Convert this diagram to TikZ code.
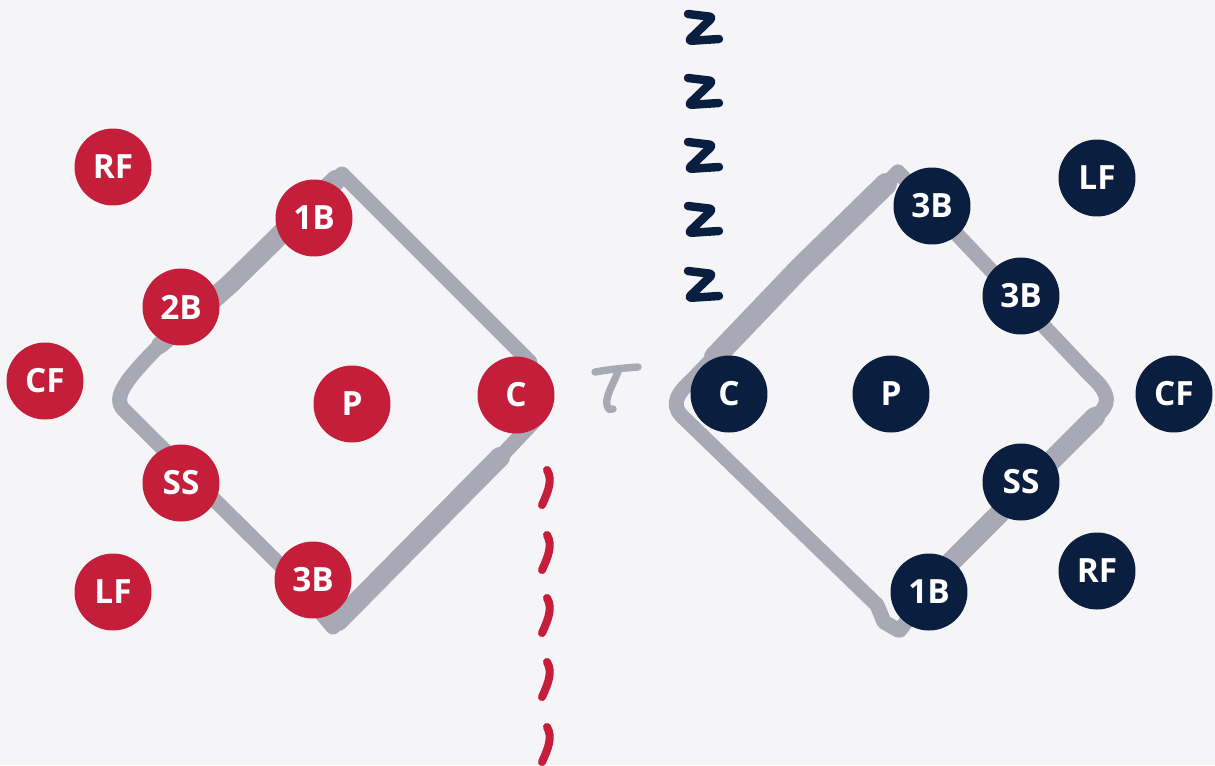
\documentclass[tikz,border=0pt]{standalone}
\usepackage{fontspec}
\setmainfont{Open Sans}
\usepackage{tikz}
\usetikzlibrary{positioning,calc}
\definecolor{teamred}{RGB}{196,30,58}
\definecolor{teamnavy}{RGB}{10,30,63}
\definecolor{fieldgray}{RGB}{169,169,182}
\definecolor{paper}{RGB}{245,245,248}
\tikzset{
  player/.style={circle, inner sep=0pt, minimum size=1.54cm, text=white,
      font=\fontsize{19}{21}\selectfont\bfseries},
  rpos/.style={player, fill=teamred},
  npos/.style={player, fill=teamnavy},
  fld/.style={fieldgray, line width=8.5pt, line cap=round, line join=round},
  fldw/.style={fieldgray, line width=11.5pt, line cap=round, line join=round},
  zzz/.style={teamnavy, line width=4.8pt, line cap=round, line join=round, rounded corners=2pt},
  rdash/.style={teamred, line width=4.6pt, line cap=round},
}
\begin{document}
\begin{tikzpicture}[x=0.02cm, y=-0.02cm]
\fill[paper] (0,0) rectangle (1215,765);
\useasboundingbox (0,0) rectangle (1215,765);
%---- left field
\draw[fld] (530,362) -- (342,174) -- (230,284) -- (160,345)
   .. controls (120,385) and (112,400) .. (126,412) -- (280,565) -- (333,627) -- (505,452) -- (540,415);
\draw[fldw] (336,180) -- (230,284) -- (195,315);
\draw[fld, line width=10pt] (195,315) -- (160,345);
\draw[fldw] (338,621) -- (500,457);
%---- right field
\draw[fld] (898,172) -- (1090,375) .. controls (1112,395) and (1110,405) .. (1095,417)
   -- (950,563) -- (900,630);
\draw[fld] (898,172) -- (800,268) -- (692,380) .. controls (672,398) and (672,408) .. (686,420)
   -- (877,605) -- (884,622) -- (898,630);
\draw[fld, line width=12.5pt] (886,184) -- (800,268) -- (715,357);
\draw[fldw] (1095,417) -- (1040,472);
\draw[fldw] (1000,513) -- (950,563);
%---- snore
\foreach \y in {27,91,155,219,284}
  \draw[zzz, shift={(705,\y)}] (-17,-13) -- (8,-10) -- (-17,14) -- (14,12);
%---- the mark between
\draw[fieldgray, line width=4.2pt, line cap=round]
   (595,372) .. controls (612,369) and (625,368) .. (638,367);
\draw[fieldgray, line width=4.2pt, line cap=round]
   (618,372) .. controls (612,386) and (605,398) .. (607,405) .. controls (608,410) and (611,410) .. (613,409);
%---- dashed trail
\foreach \y in {470,535,598,662,727}
  \draw[rdash] (547,\y) .. controls (553,\y+10) and (548,\y+22) .. (542,\y+35);
%---- red team
\node[rpos] (rRF) at (113,167) {RF};
\node[rpos] (r1B) at (314,218) {1B};
\node[rpos] (r2B) at (181,307) {2B};
\node[rpos] (rCF) at (45,381) {CF};
\node[rpos] (rP) at (352,404) {P};
\node[rpos] (rC) at (516,395) {C};
\node[rpos] (rSS) at (181,483) {SS};
\node[rpos] (r3B) at (313,580) {3B};
\node[rpos] (rLF) at (113,592) {LF};
%---- navy team
\node[npos] (n3Ba) at (932,206) {3B};
\node[npos] (nLF) at (1097,178) {LF};
\node[npos] (n3Bb) at (1021,296) {3B};
\node[npos] (nC) at (729,394) {C};
\node[npos] (nP) at (891,394) {P};
\node[npos] (nCF) at (1174,394) {CF};
\node[npos] (nSS) at (1021,482) {SS};
\node[npos] (n1B) at (929,592) {1B};
\node[npos] (nRF) at (1097,571) {RF};
\end{tikzpicture}
\end{document}
